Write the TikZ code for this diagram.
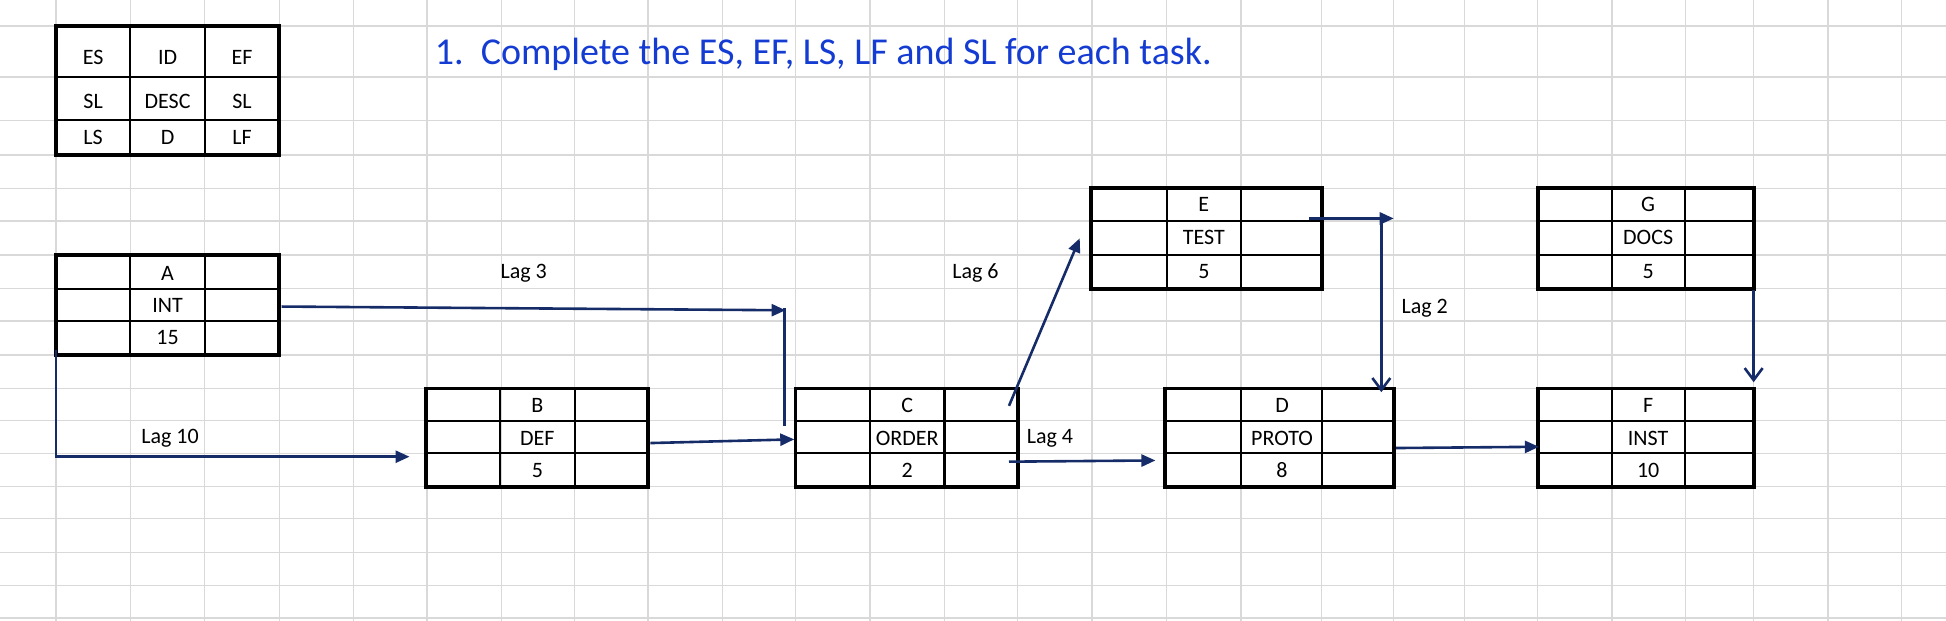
\documentclass[tikz,border=0pt]{standalone}
\usepackage{fontspec}
\setmainfont{Carlito}
\usetikzlibrary{arrows.meta}
\definecolor{arr}{RGB}{22,44,104}
\definecolor{ttl}{RGB}{20,60,210}
\newcommand{\taskbox}[9]{%
  \node[box, minimum width={(#5-#2)*0.6205pt}, minimum height={(#9-#6)*0.6205pt}] (#1) at ({(#2+#5)/2},{(#6+#9)/2}) {};
  \draw[inner] (#3,#6) -- (#3,#9) (#4,#6) -- (#4,#9) (#2,#7) -- (#5,#7) (#2,#8) -- (#5,#8);
}
\tikzset{
  box/.style={draw, line width=1.9pt, inner sep=0pt, outer sep=0pt},
  inner/.style={line width=1.1pt},
  cell/.style={font=\fontsize{11}{13}\selectfont, inner sep=0pt},
  lag/.style={font=\fontsize{11}{13}\selectfont, inner sep=0pt},
  con/.style={draw=arr, line width=1.3pt},
  conar/.style={con, -{Triangle[length=7pt,width=6pt]}},
}
\begin{document}
\begin{tikzpicture}[x=0.6205pt,y=-0.6205pt]
\useasboundingbox (0,0) rectangle (1568,500);
\foreach \x in {45,105,165,225,285,344,404,463,522,582,641,701,761,820,880,940,1000,1065,1123,1180,1239,1299,1358,1413,1473,1532}
  \draw[gray!30, line width=0.7pt] (\x,0) -- (\x,500);
\foreach \y in {21,62,97,125,152,178,205.5,232.6,258.7,286,313,339,365.3,392.2,418,445,472,498}
  \draw[gray!30, line width=0.7pt] (0,\y) -- (1568,\y);
\node[anchor=base west, text=ttl, font=\fontsize{19}{22}\selectfont, inner sep=0pt] (title) at (350,52) {1.\ \ Complete the ES, EF, LS, LF and SL for each task.};
\taskbox{leg}{45}{105}{165}{225}{21}{62}{97}{124.6}
\node[cell] (l1) at (75,46) {ES}; \node[cell] (l2) at (135,46) {ID}; \node[cell] (l3) at (195,46) {EF};
\node[cell] (l4) at (75,82) {SL}; \node[cell] (l5) at (135,82) {DESC}; \node[cell] (l6) at (195,82) {SL};
\node[cell] (l7) at (75,111) {LS}; \node[cell] (l8) at (135,111) {D}; \node[cell] (l9) at (195,111) {LF};
\taskbox{A}{45}{105}{165}{225}{205.5}{232.6}{258.7}{286}
\node[cell] at (135,220) {A}; \node[cell] at (135,246) {INT}; \node[cell] at (135,272) {15};
\taskbox{B}{343}{403}{463}{522}{313}{339}{365.3}{392.2}
\node[cell] at (433,327) {B}; \node[cell] at (433,353) {DEF}; \node[cell] at (433,379) {5};
\taskbox{C}{641}{701}{761}{820}{313}{339}{365.3}{392.2}
\node[cell] at (731,327) {C}; \node[cell] at (731,353) {ORDER}; \node[cell] at (731,379) {2};
\taskbox{D}{939}{1000}{1065.5}{1123}{313}{339}{365.3}{392.2}
\node[cell] at (1033,327) {D}; \node[cell] at (1033,353) {PROTO}; \node[cell] at (1033,379) {8};
\taskbox{E}{879}{940}{1000}{1065}{151.7}{177.8}{205.5}{232.6}
\node[cell] at (970,165) {E}; \node[cell] at (970,191) {TEST}; \node[cell] at (970,219) {5};
\taskbox{G}{1239}{1299}{1358}{1413}{151.7}{177.8}{205.5}{232.6}
\node[cell] at (1328,165) {G}; \node[cell] at (1328,191) {DOCS}; \node[cell] at (1328,219) {5};
\taskbox{F}{1239}{1299}{1358}{1413}{313}{339}{365.3}{392.2}
\node[cell] at (1328,327) {F}; \node[cell] at (1328,353) {INST}; \node[cell] at (1328,379) {10};
\coordinate (a1) at (45,282); \coordinate (a2) at (45,368); \coordinate (b0) at (330,368);
\coordinate (a3) at (227,247); \coordinate (c0) at (633,250); \coordinate (c0b) at (632,248); \coordinate (c0c) at (632,343);
\coordinate (b1) at (524,357); \coordinate (c1) at (640,354);
\coordinate (c2) at (813,327); \coordinate (e0) at (870,192);
\coordinate (c3) at (813,372); \coordinate (d0) at (931,371);
\coordinate (e1) at (1055,176); \coordinate (e2) at (1123,176); \coordinate (e3) at (1113,176); \coordinate (d1) at (1113,316);
\coordinate (d2) at (1125,361); \coordinate (f0) at (1240,360);
\coordinate (g1) at (1413,234); \coordinate (f1) at (1413,308);
\draw[conar] (a1) -- (a2) -- (b0);
\draw[conar] (a3) -- (c0);
\draw[con] (c0b) -- (c0c);
\draw[conar] (b1) -- (c1);
\draw[conar] (c2) -- (e0);
\draw[conar] (c3) -- (d0);
\draw[conar] (e1) -- (e2);
\draw[con, -{Straight Barb[length=6pt,width=9pt]}] (e3) -- (d1);
\draw[conar] (d2) -- (f0);
\draw[con, -{Straight Barb[length=6pt,width=9pt]}] (g1) -- (f1);
\node[lag] (lag10) at (137,353) {Lag 10};
\node[lag] (lag3) at (422,220) {Lag 3};
\node[lag] (lag6) at (786,220) {Lag 6};
\node[lag] (lag4) at (846,353) {Lag 4};
\node[lag] (lag2) at (1148,248) {Lag 2};
\end{tikzpicture}
\end{document}
